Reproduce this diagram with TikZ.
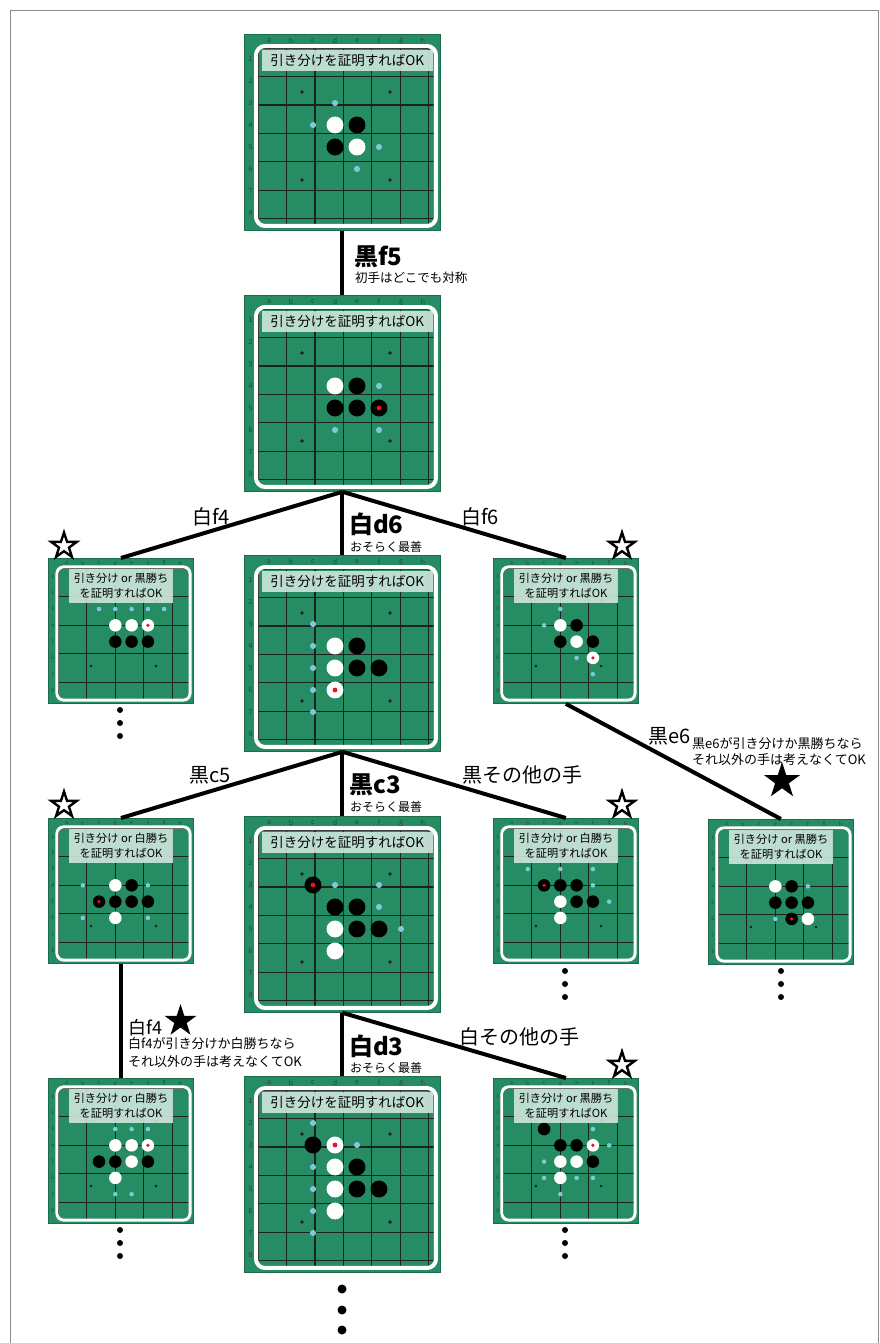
\documentclass[tikz,border=0pt]{standalone}
\usepackage{fontspec}
\setmainfont{Noto Sans CJK JP}
\usetikzlibrary{positioning, shapes.geometric}

\definecolor{BoardGreen}{RGB}{38,140,100}
\definecolor{BoardEdge}{RGB}{28,108,76}
\definecolor{GridDark}{RGB}{28,34,30}
\definecolor{HintBlue}{RGB}{126,200,216}
\definecolor{LastRed}{RGB}{232,22,22}
\definecolor{LabelMint}{RGB}{212,233,225}
\definecolor{CoordGray}{RGB}{40,70,58}
\definecolor{FrameGray}{RGB}{140,140,140}

\tikzset{
  boardbase/.style={draw=BoardEdge, fill=BoardGreen, line width=0.8pt, inner sep=0pt, anchor=north west},
  coordlbl/.style={text=CoordGray, inner sep=0pt},
  gridline/.style={GridDark, line width=1.3pt},
  bigtitle/.style={font=\fontsize{13.5}{15}\selectfont, inner sep=0pt},
  smalltitle/.style={font=\fontsize{11.2}{14.5}\selectfont, inner sep=0pt, align=center},
  branch/.style={line width=4pt},
  movelbl/.style={font=\fontsize{20}{22}\selectfont, inner sep=0pt},
  bestlbl/.style={font=\fontsize{24}{26}\selectfont\bfseries, inner sep=0pt, anchor=north west},
  notelbl/.style={font=\fontsize{12.5}{15}\selectfont, inner sep=0pt, anchor=north west, align=left},
  openstar/.style={star, star points=5, star point ratio=2.6, draw, line width=2.4pt, minimum size=27pt, inner sep=0pt},
  fullstar/.style={openstar, fill=black},
  moredot/.style={circle, fill=black, inner sep=0pt, minimum size=6pt},
}

% #1 name, #2/#3 top left, #4 scale, #5 title,
% #6 black, #7 white, #8 legal moves, #9 last move
\newcommand{\drawboard}[9]{%
  \pgfmathsetmacro{\bsz}{196*#4}%
  \pgfmathsetmacro{\cellsz}{22*#4}%
  \pgfmathsetmacro{\bfont}{7*#4}%
  \pgfmathsetmacro{\framew}{4*#4}%
  \pgfmathsetmacro{\framer}{9*#4}%
  \node[boardbase, minimum size=\bsz pt] (#1) at (#2,#3) {};
  \begin{scope}[shift={(#2+14*#4,#3+14*#4)}, x=\cellsz pt, y=-\cellsz pt]
    % letters and numbers
    \foreach \col [count=\i] in {a,...,h}
      \node[coordlbl, font=\fontsize{\bfont}{\bfont}\selectfont] (#1-c\i) at (\i-0.5,-0.32) {\col};
    \foreach \row in {1,...,8}
      \node[coordlbl, font=\fontsize{\bfont}{\bfont}\selectfont] (#1-r\row) at (-0.34,\row-0.5) {\row};
    \draw[gridline] (0,0) grid (8,8);
    \foreach \col/\row in {2/2,6/2,2/6,6/6}
      \fill[GridDark] (\col,\row) circle (0.09);
    \draw[white, line width=\framew pt, rounded corners=\framer pt] (-0.09,-0.09) rectangle (8.09,8.09);
    % title box
    \ifdim #4pt<1pt
      \fill[LabelMint, opacity=0.88] (0.65,0.02) rectangle (7.05,2.15);
      \node[smalltitle] (#1-title) at (3.85,1.08) {#5};
    \else
      \fill[LabelMint, opacity=0.88] (0.18,0.09) rectangle (7.95,1.05);
      \node[bigtitle] (#1-title) at (4.06,0.57) {#5};
    \fi
    % stones
    \foreach \col/\row in {#6} \fill[black] (\col-0.5,\row-0.5) circle (0.385);
    \foreach \col/\row in {#7} \fill[white] (\col-0.5,\row-0.5) circle (0.385);
    \foreach \col/\row in {#8} \fill[HintBlue] (\col-0.5,\row-0.5) circle (0.14);
    \def\lastmv{#9}%
    \ifx\lastmv\empty\else
      \foreach \col/\row in {#9} \fill[LastRed] (\col-0.5,\row-0.5) circle (0.11);
    \fi
  \end{scope}
}

\begin{document}
\begin{tikzpicture}[x=1pt, y=-1pt]
  \useasboundingbox (0,0) rectangle (880,1343);
  \draw[FrameGray, line width=0.8pt] (10,1350) -- (10,10) -- (878,10) -- (878,1350);

  % start position
  \drawboard{start}{244}{34}{1}{引き分けを証明すればOK}{5/4,4/5}{4/4,5/5}{4/3,3/4,6/5,5/6}{}
  % black f5
  \drawboard{bf5}{244}{295}{1}{引き分けを証明すればOK}{5/4,4/5,5/5,6/5}{4/4}{6/4,4/6,6/6}{6/5}

  % white replies
  \drawboard{wf4}{48}{558}{0.74}{引き分け or 黒勝ち\\を証明すればOK}{4/5,5/5,6/5}{4/4,5/4,6/4}{3/3,4/3,5/3,6/3,7/3}{6/4}
  \drawboard{wd6}{244}{555}{1}{引き分けを証明すればOK}{5/4,5/5,6/5}{4/4,4/5,4/6}{3/3,3/4,3/5,3/6,3/7}{4/6}
  \drawboard{wf6}{493}{558}{0.74}{引き分け or 黒勝ち\\を証明すればOK}{5/4,4/5,6/5}{4/4,5/5,6/6}{4/3,3/4,5/6,6/7}{6/6}

  % black replies
  \drawboard{bc5}{48}{818}{0.74}{引き分け or 白勝ち\\を証明すればOK}{5/4,3/5,4/5,5/5,6/5}{4/4,4/6}{2/4,6/4,2/6,6/6}{3/5}
  \drawboard{bc3}{244}{816}{1}{引き分けを証明すればOK}{3/3,4/4,5/4,5/5,6/5}{4/5,4/6}{4/3,6/3,6/4,7/5}{3/3}
  \drawboard{bother}{493}{818}{0.74}{引き分け or 白勝ち\\を証明すればOK}{3/4,4/4,5/4,5/5,6/5}{4/5,4/6}{2/3,4/3,6/3,6/4,7/5}{3/4}
  \drawboard{be6}{708}{819}{0.74}{引き分け or 黒勝ち\\を証明すればOK}{5/4,4/5,5/5,6/5,5/6}{4/4,6/6}{6/4,4/6}{5/6}

  % white replies, last row
  \drawboard{wf4b}{48}{1078}{0.74}{引き分け or 白勝ち\\を証明すればOK}{3/5,4/5,6/5}{4/4,5/4,6/4,5/5,4/6}{4/3,5/3,6/3,4/7,5/7}{6/4}
  \drawboard{wd3}{244}{1076}{1}{引き分けを証明すればOK}{3/3,5/4,5/5,6/5}{4/3,4/4,4/5,4/6}{3/2,5/3,3/4,3/5,3/6,3/7}{4/3}
  \drawboard{wother}{493}{1078}{0.74}{引き分け or 黒勝ち\\を証明すればOK}{3/3,4/4,5/4,6/5}{4/5,5/5,4/6,6/4}{6/3,7/4,3/5,3/6,5/6,6/6,4/7}{6/4}

  % branches
  \draw[branch] (start.south) -- (bf5.north);
  \draw[branch] (bf5.south) -- (wf4.north);
  \draw[branch] (bf5.south) -- (wd6.north);
  \draw[branch] (bf5.south) -- (wf6.north);
  \draw[branch] (wf6.south) -- (be6.north);
  \draw[branch] (wd6.south) -- (bc5.north);
  \draw[branch] (wd6.south) -- (bc3.north);
  \draw[branch] (wd6.south) -- (bother.north);
  \draw[branch] (bc5.south) -- (wf4b.north);
  \draw[branch] (bc3.south) -- (wd3.north);
  \draw[branch] (bc3.south) -- (wother.north);

  % move labels
  \node[bestlbl] (lbf5) at (354,246) {黒f5};
  \node[notelbl] (nbf5) at (355,272) {初手はどこでも対称};

  \node[movelbl] (lwf4) at (211,517) {白f4};
  \node[bestlbl] (lwd6) at (349,513) {白d6};
  \node[notelbl, font=\fontsize{12}{14}\selectfont] (nwd6) at (350,541) {おそらく最善};
  \node[movelbl] (lwf6) at (480,517) {白f6};

  \node[movelbl, anchor=west] (lbe6) at (648,736) {黒e6};
  \node[notelbl, font=\fontsize{13}{16}\selectfont] (nbe6) at (692,737) {黒e6が引き分けか黒勝ちなら\\それ以外の手は考えなくてOK};
  \node[fullstar, minimum size=30pt] (sbe6) at (782,781) {};

  \node[movelbl] (lbc5) at (210,775) {黒c5};
  \node[bestlbl] (lbc3) at (349,774) {黒c3};
  \node[notelbl, font=\fontsize{12}{14}\selectfont] (nbc3) at (350,801) {おそらく最善};
  \node[movelbl] (lbother) at (522,775) {黒その他の手};

  \node[movelbl, anchor=west, font=\fontsize{18}{20}\selectfont] (lwf4b) at (128,1028) {白f4};
  \node[fullstar, minimum size=26pt] (swf4b) at (180.5,1021) {};
  \node[notelbl, font=\fontsize{13}{18.5}\selectfont] (nwf4b) at (128,1037) {白f4が引き分けか白勝ちなら\\それ以外の手は考えなくてOK};
  \node[bestlbl] (lwd3) at (349,1035) {白d3};
  \node[notelbl, font=\fontsize{12}{14}\selectfont] (nwd3) at (350,1062) {おそらく最善};
  \node[movelbl] (lwother) at (519,1037) {白その他の手};

  % open stars
  \node[openstar] (swf4) at (64,546) {};
  \node[openstar] (swf6) at (622,546) {};
  \node[openstar] (sbc5) at (64,805) {};
  \node[openstar] (sbother) at (622,805) {};
  \node[openstar] (swother) at (622,1065) {};

  % more moves below
  \foreach \k/\y in {1/710,2/723,3/736}
    \node[moredot] (wf4-more\k) at (120,\y) {};
  \foreach \k/\y in {1/971,2/984,3/997} {
    \node[moredot] (bother-more\k) at (565,\y) {};
    \node[moredot] (be6-more\k) at (781,\y) {};
  }
  \foreach \k/\y in {1/1230,2/1243,3/1256} {
    \node[moredot] (wf4b-more\k) at (120,\y) {};
    \node[moredot] (wother-more\k) at (565,\y) {};
  }
  \foreach \k/\y in {1/1289,2/1310,3/1330}
    \node[moredot, minimum size=9pt] (wd3-more\k) at (342,\y) {};
\end{tikzpicture}
\end{document}
